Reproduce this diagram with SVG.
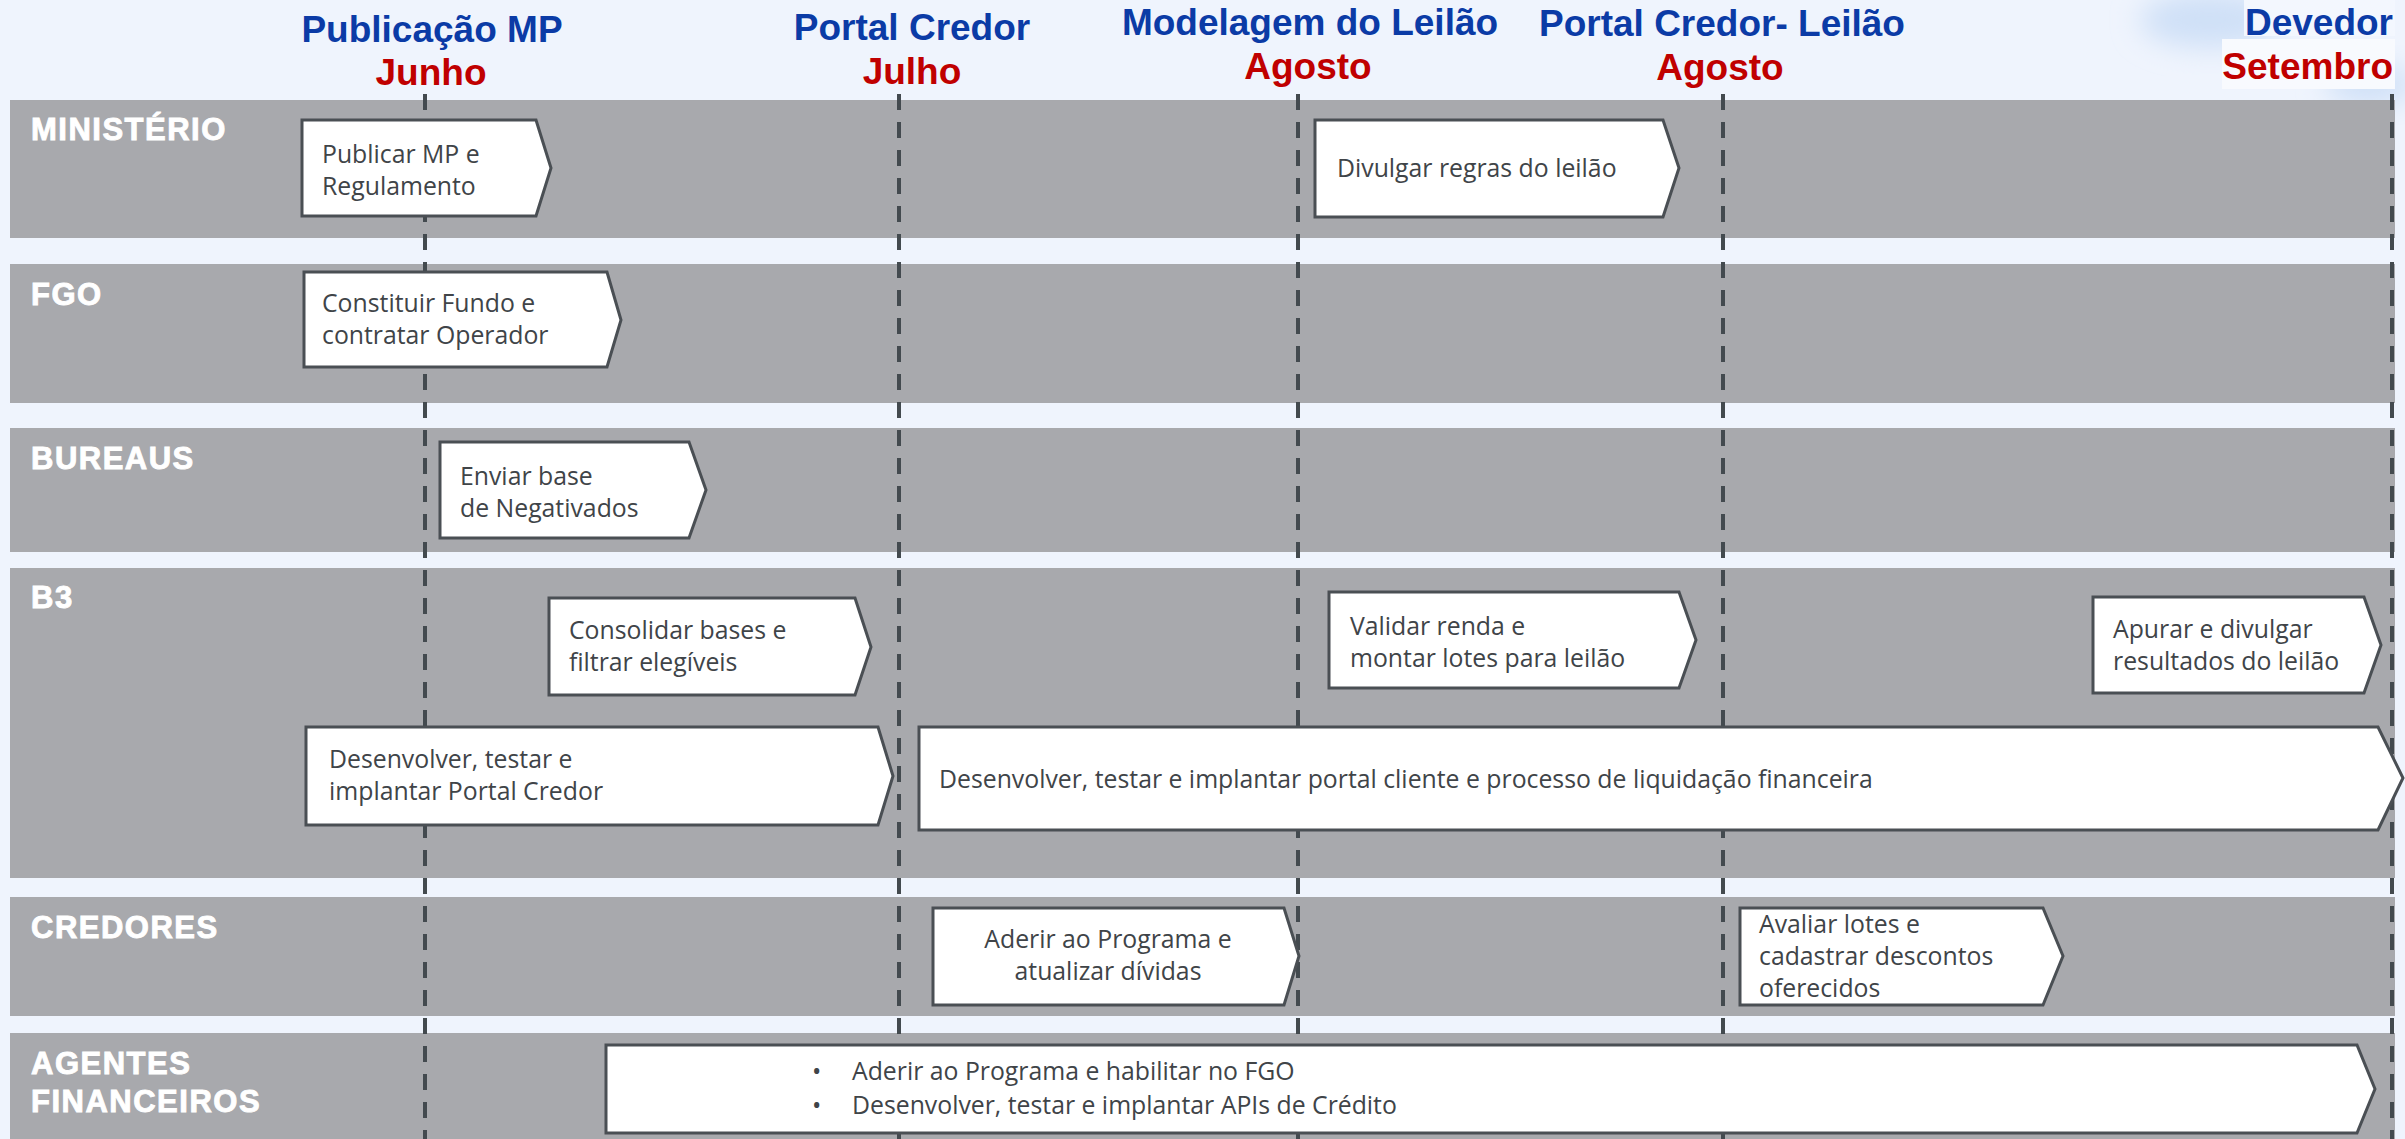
<svg xmlns="http://www.w3.org/2000/svg" width="2405" height="1139" viewBox="0 0 2405 1139">
<defs>
<style>
.bg{fill:#EFF4FD}
.lane{fill:#A8A9AD}
.lbl{font-family:"Liberation Sans",Arial,sans-serif;font-weight:bold;font-size:31px;fill:#FFFFFF;stroke:#FFFFFF;stroke-width:0.9;letter-spacing:1.5px}
.hb{font-family:"Liberation Sans",Arial,sans-serif;font-weight:bold;font-size:37px;fill:#0B3BA6;text-anchor:middle}
.hr{font-family:"Liberation Sans",Arial,sans-serif;font-weight:bold;font-size:37px;fill:#C00000;text-anchor:middle}
.box{fill:#FFFFFF;stroke:#4A4F54;stroke-width:3;stroke-linejoin:miter}
.t{font-family:"Open Sans","Noto Sans",sans-serif;font-size:24.8px;fill:#404448}
.dash{stroke:#434A4F;stroke-width:4;stroke-dasharray:16 12;fill:none}
</style>
<filter id="blur" x="-50%" y="-50%" width="200%" height="200%"><feGaussianBlur stdDeviation="14"/></filter>
</defs>
<rect class="bg" x="0" y="0" width="2405" height="1139"/>
<g id="decor">
<ellipse cx="2210" cy="20" rx="70" ry="28" fill="#CFE0F7" filter="url(#blur)"/>
<ellipse cx="2370" cy="85" rx="45" ry="20" fill="#CFE0F7" filter="url(#blur)"/>
<rect x="2244" y="0" width="151" height="36" fill="#F3F7FE"/>
<rect x="2222" y="39" width="173" height="50" fill="#F8FAFE"/>
</g>
<g id="lanes">
<g id="lane-ministerio"><rect class="lane" x="10" y="100" width="2385" height="138"/><text class="lbl" x="31" y="140">MINISTÉRIO</text></g>
<g id="lane-fgo"><rect class="lane" x="10" y="264" width="2385" height="139"/><text class="lbl" x="31" y="305">FGO</text></g>
<g id="lane-bureaus"><rect class="lane" x="10" y="428" width="2385" height="124"/><text class="lbl" x="31" y="469">BUREAUS</text></g>
<g id="lane-b3"><rect class="lane" x="10" y="568" width="2385" height="310"/><text class="lbl" x="31" y="608">B3</text></g>
<g id="lane-credores"><rect class="lane" x="10" y="897" width="2385" height="119"/><text class="lbl" x="31" y="938">CREDORES</text></g>
<g id="lane-agentes"><rect class="lane" x="10" y="1033" width="2385" height="106"/><text class="lbl" x="31" y="1074">AGENTES</text><text class="lbl" x="31" y="1112">FINANCEIROS</text></g>
</g>
<g id="milestones">
<g id="m1"><text class="hb" x="432" y="42">Publicação MP</text><text class="hr" x="431" y="85">Junho</text></g>
<g id="m2"><text class="hb" x="912" y="40">Portal Credor</text><text class="hr" x="912" y="84">Julho</text></g>
<g id="m3"><text class="hb" x="1310" y="35">Modelagem do Leilão</text><text class="hr" x="1308" y="79">Agosto</text></g>
<g id="m4"><text class="hb" x="1722" y="36">Portal Credor- Leilão</text><text class="hr" x="1720" y="80">Agosto</text></g>
<g id="m5"><text class="hb" x="2393" y="35" style="text-anchor:end">Devedor</text><text class="hr" x="2393" y="79" style="text-anchor:end">Setembro</text></g>
</g>
<g id="connectors">
<line class="dash" x1="425" y1="94" x2="425" y2="1139"/>
<line class="dash" x1="899" y1="94" x2="899" y2="1139"/>
<line class="dash" x1="1298" y1="94" x2="1298" y2="1139"/>
<line class="dash" x1="1723" y1="94" x2="1723" y2="1139"/>
<line class="dash" x1="2392" y1="94" x2="2392" y2="1139"/>
</g>
<g id="n-publicar"><polygon class="box" points="302,120 536,120 551,168 536,216 302,216"/><text class="t" x="322" y="163">Publicar MP e</text><text class="t" x="322" y="195">Regulamento</text></g>
<g id="n-divulgar"><polygon class="box" points="1315,120 1663,120 1679,168 1663,217 1315,217"/><text class="t" x="1337" y="177">Divulgar regras do leilão</text></g>
<g id="n-constituir"><polygon class="box" points="304,272 607,272 621,320 607,367 304,367"/><text class="t" x="322" y="312">Constituir Fundo e</text><text class="t" x="322" y="344">contratar Operador</text></g>
<g id="n-enviar"><polygon class="box" points="440,442 689,442 706,490 689,538 440,538"/><text class="t" x="460" y="485">Enviar base</text><text class="t" x="460" y="517">de Negativados</text></g>
<g id="n-consolidar"><polygon class="box" points="549,598 855,598 871,647 855,695 549,695"/><text class="t" x="569" y="639">Consolidar bases e</text><text class="t" x="569" y="671">filtrar elegíveis</text></g>
<g id="n-validar"><polygon class="box" points="1329,592 1679,592 1696,640 1679,688 1329,688"/><text class="t" x="1350" y="635">Validar renda e</text><text class="t" x="1350" y="667">montar lotes para leilão</text></g>
<g id="n-apurar"><polygon class="box" points="2093,597 2364,597 2381,645 2364,693 2093,693"/><text class="t" x="2113" y="638">Apurar e divulgar</text><text class="t" x="2113" y="670">resultados do leilão</text></g>
<g id="n-portal"><polygon class="box" points="306,727 878,727 893,776 878,825 306,825"/><text class="t" x="329" y="768">Desenvolver, testar e</text><text class="t" x="329" y="800">implantar Portal Credor</text></g>
<g id="n-liquidacao"><polygon class="box" points="919,727 2378,727 2403,778 2378,830 919,830"/><text class="t" x="939" y="788">Desenvolver, testar e implantar portal cliente e processo de liquidação financeira</text></g>
<g id="n-aderir"><polygon class="box" points="933,908 1284,908 1299,956 1284,1005 933,1005"/><text class="t" x="1108" y="948" text-anchor="middle">Aderir ao Programa e</text><text class="t" x="1108" y="980" text-anchor="middle">atualizar dívidas</text></g>
<g id="n-avaliar"><polygon class="box" points="1740,908 2043,908 2063,956 2043,1005 1740,1005"/><text class="t" x="1759" y="933">Avaliar lotes e</text><text class="t" x="1759" y="965">cadastrar descontos</text><text class="t" x="1759" y="997">oferecidos</text></g>
<g id="n-agentes"><polygon class="box" points="606,1045 2357,1045 2375,1089 2357,1133 606,1133"/><text class="t" x="812" y="1080">•</text><text class="t" x="852" y="1080">Aderir ao Programa e habilitar no FGO</text><text class="t" x="812" y="1114">•</text><text class="t" x="852" y="1114">Desenvolver, testar e implantar APIs de Crédito</text></g>
</svg>
